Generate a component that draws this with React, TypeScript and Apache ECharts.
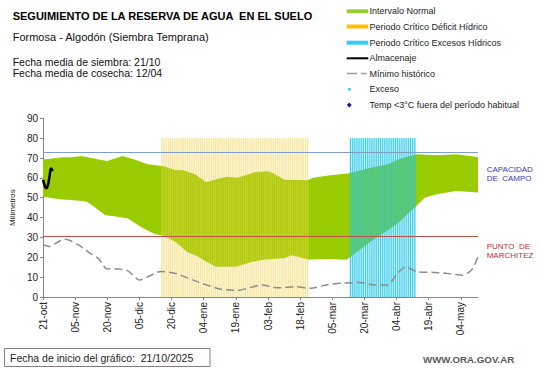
import React, { useEffect, useRef } from "react";
import * as echarts from "echarts";

// x values are days since 21/10/2025
const tickLabels = ["21-oct", "05-nov", "20-nov", "05-dic", "20-dic", "04-ene", "19-ene", "03-feb", "18-feb", "05-mar", "20-mar", "04-abr", "19-abr", "04-may"];
const tickStep = 15;
const xMax = 203;

const bandUpper: [number, number][] = [
  [0, 69.2], [9, 70.4], [13, 70.4], [18, 71], [26, 69.2], [30, 68.5], [37, 71], [42.7, 69.2],
  [48.8, 66.8], [56.4, 65.8], [61.7, 64], [65.5, 63.8], [70.9, 61.8], [76.2, 57.8], [81.6, 59.6],
  [86, 60.5], [90.7, 60.1], [94.5, 61.3], [99, 63], [105.2, 63.3], [108, 62], [112.6, 59.1],
  [123.5, 58.8], [126, 60], [134, 61.3], [142.4, 62.2], [151.6, 64.7], [160.8, 66.8], [166.9, 69.7],
  [174.5, 71.9], [183.7, 71.4], [192.8, 71.9], [203, 70.5],
];

const bandLower: [number, number][] = [
  [0, 50.5], [7.6, 49.2], [12.8, 48.8], [18.3, 48.4], [20.4, 48], [22.9, 46.2], [29, 41.2],
  [35, 40.4], [39.6, 39.5], [45.7, 35.2], [51.8, 31.8], [56.5, 30.7], [61.7, 27.8], [64, 25.8],
  [67, 22.8], [72, 20.5], [76.2, 17.7], [80.8, 15.2], [90, 15.2], [97.6, 17.7], [103.6, 18.9],
  [112.7, 19.5], [116, 21], [120.4, 19.9], [123.5, 18.9], [134, 19.1], [141.7, 18.8], [147, 23],
  [151.6, 27], [157.7, 31.2], [165.4, 37], [173, 44.6], [178.3, 50.1], [183.7, 51.8], [192.8, 53.4],
  [203, 52.6],
];

const minHistorico: [number, number][] = [
  [0, 26.3], [3, 25.4], [7.6, 28.1], [9.9, 29.1], [12.2, 28.6], [16.8, 26.1], [21.4, 22.4],
  [25.9, 19.4], [29.7, 14.2], [35.1, 14.1], [39.6, 13.2], [45, 8.5], [48.9, 10.2], [54.9, 12.9],
  [62.3, 11.7], [70.1, 8.5], [76.3, 6.1], [83.1, 3.9], [90.7, 3.3], [96.8, 4.8], [102.1, 6],
  [109.6, 4.6], [117.4, 5.2], [125, 4.4], [132.5, 6.2], [140.2, 7], [147.9, 7.3], [154.7, 6],
  [160.8, 6], [165.4, 11.9], [169.2, 15.2], [174.5, 12.7], [182.2, 12.4], [188.3, 11.9],
  [195.9, 11], [198.2, 12], [200.6, 14.4], [203.3, 21.1],
];

const almacenaje: [number, number][] = [
  [0, 59], [0.8, 56], [1.5, 54.8], [2.2, 56], [3, 60.5], [3.8, 64.7], [4.5, 63.5],
];

// [start day, end day, top]
const periods: [number, number, number][] = [
  [55, 124, 80],
  [143, 174, 80],
];
const periodColors = ["#eed24a", "#22c6e6"];

const capacidadCampo = 73;
const puntoMarchitez = 30.5;

const FONT = "'Liberation Sans', Arial, sans-serif";

export default function App() {
  const ref = useRef<HTMLDivElement>(null);

  useEffect(() => {
    if (!ref.current) return;
    const chart = echarts.init(ref.current, undefined, { renderer: "svg" });
    const tickValues = tickLabels.map((_, i) => i * tickStep);

    const legendRows = [
      { y: 11.3, label: "Intervalo Normal", kind: "rect", color: "#99cc33" },
      { y: 26.5, label: "Periodo Crítico Déficit Hídrico", kind: "rect", color: "#ffc000" },
      { y: 42.7, label: "Periodo Crítico Excesos Hídricos", kind: "rect", color: "#33ccf5" },
      { y: 58.3, label: "Almacenaje", kind: "line", color: "#000000" },
      { y: 73.5, label: "Mínimo histórico", kind: "dash", color: "#9a9a9a" },
      { y: 89.3, label: "Exceso", kind: "dot", color: "#33ccee" },
      { y: 105, label: "Temp <3°C fuera del período habitual", kind: "diamond", color: "#1a1a9a" },
    ];

    const legendGraphics: any[] = [];
    legendRows.forEach((r) => {
      if (r.kind === "rect") {
        legendGraphics.push({ type: "rect", shape: { x: 346.7, y: r.y - 2, width: 21.6, height: 4 }, style: { fill: r.color } });
      } else if (r.kind === "line") {
        legendGraphics.push({ type: "line", shape: { x1: 346.7, y1: r.y, x2: 368.3, y2: r.y }, style: { stroke: r.color, lineWidth: 2 } });
      } else if (r.kind === "dash") {
        legendGraphics.push({ type: "line", shape: { x1: 346.7, y1: r.y, x2: 366.7, y2: r.y }, style: { stroke: r.color, lineWidth: 1.5, lineDash: [10.5, 3.5, 6, 50] } });
      } else if (r.kind === "dot") {
        legendGraphics.push({ type: "circle", shape: { cx: 349.3, cy: r.y, r: 1.5 }, style: { fill: r.color } });
      } else {
        legendGraphics.push({ type: "polygon", shape: { points: [[349.3, r.y - 2.5], [351.8, r.y], [349.3, r.y + 2.5], [346.8, r.y]] }, style: { fill: r.color } });
      }
      legendGraphics.push({
        type: "text", x: 369.5, y: r.y,
        style: { text: r.label, fontSize: 9, fontFamily: FONT, fill: "#222", verticalAlign: "middle", align: "left" },
      });
    });

    const textEl = (x: number, y: number, text: string, size: number, fill: string, weight: string = "normal", align: string = "left") => ({
      type: "text", x, y,
      style: { text, fontSize: size, fontFamily: FONT, fill, fontWeight: weight, verticalAlign: "middle", align },
    });

    const option: any = {
      animation: false,
      textStyle: { fontFamily: FONT },
      grid: { left: 33.3, right: 63, top: 118.3, bottom: 71, containLabel: false },
      xAxis: {
        type: "value",
        min: 0,
        max: xMax,
        interval: tickStep,
        axisLine: { show: true, lineStyle: { color: "#868686", width: 1 } },
        axisTick: { show: true, length: 3, inside: false, lineStyle: { color: "#868686" }, customValues: tickValues },
        axisLabel: {
          rotate: 90, fontSize: 10, color: "#222", margin: 5, fontFamily: FONT,
          customValues: tickValues,
          formatter: (v: number) => tickLabels[Math.round(v / tickStep)] ?? "",
        },
        splitLine: { show: false },
      },
      yAxis: {
        type: "value",
        min: 0,
        max: 90,
        interval: 10,
        name: "Milímetros",
        nameLocation: "middle",
        nameGap: 25,
        nameTextStyle: { fontSize: 8, color: "#222", fontFamily: FONT },
        axisLine: { show: true, lineStyle: { color: "#868686", width: 1 } },
        axisTick: { show: true, length: 3, inside: false, lineStyle: { color: "#868686" } },
        axisLabel: { fontSize: 10, color: "#222", margin: 5, fontFamily: FONT },
        splitLine: { show: false },
      },
      series: [
        {
          type: "custom",
          name: "Intervalo Normal",
          coordinateSystem: "cartesian2d",
          silent: true,
          z: 1,
          data: [[0, 0]],
          renderItem: (_params: any, api: any) => {
            const pts = [
              ...bandUpper.map((p) => api.coord(p)),
              ...bandLower.slice().reverse().map((p) => api.coord(p)),
            ];
            return { type: "polygon", shape: { points: pts, smooth: 0 }, style: { fill: "#99cc00" } };
          },
        },
        {
          type: "line",
          name: "lines",
          data: [],
          z: 2,
          silent: true,
          markLine: {
            silent: true,
            symbol: "none",
            label: { show: false },
            data: [
              { yAxis: capacidadCampo, lineStyle: { color: "#7f9dcc", width: 1.2, type: "solid" } },
              { yAxis: puntoMarchitez, lineStyle: { color: "#c0504d", width: 1.2, type: "solid" } },
            ],
          },
        },
        {
          type: "custom",
          name: "Periodos",
          coordinateSystem: "cartesian2d",
          silent: true,
          z: 3,
          encode: { x: [0, 1], y: 2 },
          data: periods,
          renderItem: (params: any, api: any) => {
            const s = api.value(0);
            const e = api.value(1);
            const top = api.value(2);
            const p0 = api.coord([s, top]);
            const p1 = api.coord([e, 0]);
            const step = api.size([1, 0])[0];
            const col = periodColors[params.dataIndex];
            const isCyan = params.dataIndex === 1;
            const children: any[] = [
              {
                type: "rect",
                shape: { x: p0[0], y: p0[1], width: p1[0] - p0[0], height: p1[1] - p0[1] },
                style: { fill: col, opacity: isCyan ? 0.28 : 0.2 },
              },
            ];
            for (let x = p0[0] + step / 2; x < p1[0]; x += step) {
              children.push({
                type: "line",
                shape: { x1: x, y1: p0[1], x2: x, y2: p1[1] },
                style: { stroke: col, lineWidth: isCyan ? 1 : 0.9, opacity: isCyan ? 0.85 : 0.5 },
              });
            }
            return { type: "group", children };
          },
        },
        {
          type: "line",
          name: "Mínimo histórico",
          data: minHistorico,
          z: 4,
          symbol: "none",
          smooth: 0.2,
          lineStyle: { color: "#8c8c8c", width: 1.5, type: [8, 4] },
        },
        {
          type: "line",
          name: "Almacenaje",
          data: almacenaje,
          z: 5,
          symbol: "none",
          smooth: true,
          lineStyle: { color: "#000", width: 2.5 },
        },
      ],
      graphic: [
        textEl(12.7, 16, "SEGUIMIENTO DE LA RESERVA DE AGUA  EN EL SUELO", 11, "#000", "bold"),
        textEl(12.7, 36.5, "Formosa - Algodón (Siembra Temprana)", 11, "#111"),
        textEl(12.7, 61.7, "Fecha media de siembra: 21/10", 10.5, "#111"),
        textEl(12.7, 73.4, "Fecha media de cosecha: 12/04", 10.5, "#111"),
        ...legendGraphics,
        textEl(486.7, 169.7, "CAPACIDAD", 8, "#3b3bb0"),
        textEl(486.7, 178.7, "DE  CAMPO", 8, "#3b3bb0"),
        textEl(486.7, 246.3, "PUNTO  DE", 8, "#b83030"),
        textEl(486.7, 255.5, "MARCHITEZ", 8, "#b83030"),
        {
          type: "rect",
          shape: { x: 4.5, y: 348.5, width: 205.5, height: 18 },
          style: { fill: "none", stroke: "#8c7b7b", lineWidth: 1 },
        },
        textEl(10, 357.5, "Fecha de inicio del gráfico:  21/10/2025", 10.5, "#222"),
        textEl(423, 359, "WWW.ORA.GOV.AR", 9.7, "#595959", "bold"),
      ],
    };

    chart.setOption(option);
    return () => chart.dispose();
  }, []);

  return (
    <div
      ref={ref}
      style={{ position: "absolute", left: 0, top: 0, width: 541, height: 368, background: "#fff" }}
    />
  );
}
